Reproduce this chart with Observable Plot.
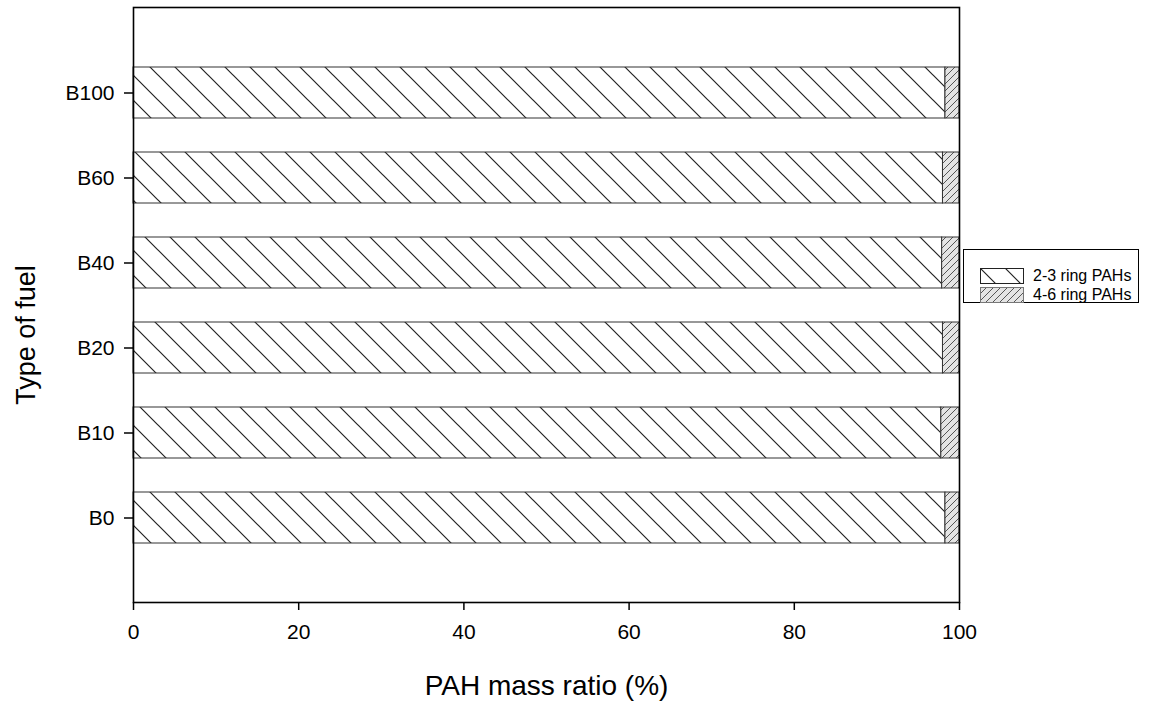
<!DOCTYPE html>
<html>
<head>
<meta charset="utf-8">
<script src="https://cdn.jsdelivr.net/npm/d3@7"></script>
<script src="https://cdn.jsdelivr.net/npm/@observablehq/plot@0.6"></script>
<style>
  html, body { margin: 0; padding: 0; background: #fff; }
  #wrap { position: relative; width: 1173px; height: 704px; font-family: "Liberation Sans", Arial, sans-serif; }
  #legend { position: absolute; left: 963px; top: 249px; width: 176px; height: 54px; border: 1.3px solid #000; box-sizing: border-box; background: #fff; }
  .li { position: absolute; left: 16px; display: flex; align-items: center; font-size: 16px; color: #000; line-height: 16px; }
  .li svg { margin-right: 9px; display: block; }
</style>
</head>
<body>
<div id="wrap"></div>
<script>
const fuels = ["B0", "B10", "B20", "B40", "B60", "B100"];
const ring23 = [98.3, 97.8, 98.0, 97.9, 98.0, 98.3];
const ring46 = [1.7, 2.2, 2.0, 2.1, 2.0, 1.7];
const seriesNames = ["2-3 ring PAHs", "4-6 ring PAHs"];
const xTicks = [0, 20, 40, 60, 80, 100];

const patternOf = {"2-3 ring PAHs": "url(#hatch23)", "4-6 ring PAHs": "url(#hatch46)"};
const data = [];
fuels.forEach((f, i) => {
  data.push({fuel: f, series: seriesNames[0], value: ring23[i]});
  data.push({fuel: f, series: seriesNames[1], value: ring46[i]});
});

const svg = Plot.plot({
  width: 1173,
  height: 704,
  marginLeft: 133,
  marginRight: 214,
  marginTop: 7,
  marginBottom: 102,
  style: {fontFamily: "'Liberation Sans', Arial, sans-serif", fontSize: "21px", color: "#000", background: "#fff"},
  x: {domain: [0, 100]},
  y: {domain: fuels.slice().reverse(), paddingInner: 0.4, paddingOuter: 0.7},
  color: {type: "identity"},
  marks: [
    Plot.barX(data, Plot.stackX({
      x: "value", y: "fuel", order: null,
      fill: d => patternOf[d.series],
      stroke: "#333", strokeWidth: 1
    })),
    Plot.frame({stroke: "#000", strokeWidth: 1.6}),
    Plot.axisX({ticks: xTicks, tickSize: 8, tickPadding: 14, tickFormat: d => String(d), label: null, fontSize: 21, strokeWidth: 1.5}),
    Plot.axisY({tickSize: 9, tickPadding: 10, label: null, fontSize: 21, strokeWidth: 1.5}),
    Plot.text(["PAH mass ratio (%)"], {frameAnchor: "bottom", textAnchor: "middle", dy: 92, fontSize: 28, text: d => d}),
    Plot.text(["Type of fuel"], {frameAnchor: "left", textAnchor: "middle", dx: -107, dy: 30, rotate: -90, fontSize: 27, text: d => d})
  ]
});

const ns = "http://www.w3.org/2000/svg";
const defs = document.createElementNS(ns, "defs");
defs.innerHTML = `
  <pattern id="hatch23" patternUnits="userSpaceOnUse" x="133" y="0" width="25" height="25">
    <rect width="25" height="25" fill="#fff"/>
    <path d="M-2,-2 L27,27 M-2,23 L2,27 M23,-2 L27,2" stroke="#222" stroke-width="1.2"/>
  </pattern>
  <pattern id="hatch46" patternUnits="userSpaceOnUse" width="7" height="7">
    <rect width="7" height="7" fill="#e4e4e4"/>
    <path d="M-1,8 L8,-1 M-1,1 L1,-1 M6,8 L8,6" stroke="#555" stroke-width="1"/>
  </pattern>`;
svg.insertBefore(defs, svg.firstChild);
document.getElementById("wrap").appendChild(svg);

// legend
const legend = document.createElement("div");
legend.id = "legend";
const swatchDefs = `<defs>
  <pattern id="lg23" patternUnits="userSpaceOnUse" width="25" height="25">
    <rect width="25" height="25" fill="#fff"/>
    <path d="M-2,-2 L27,27 M-2,23 L2,27 M23,-2 L27,2" stroke="#222" stroke-width="1.2"/>
  </pattern>
  <pattern id="lg46" patternUnits="userSpaceOnUse" width="7" height="7">
    <rect width="7" height="7" fill="#e4e4e4"/>
    <path d="M-1,8 L8,-1 M-1,1 L1,-1 M6,8 L8,6" stroke="#555" stroke-width="1"/>
  </pattern></defs>`;
const lgPat = ["url(#lg23)", "url(#lg46)"];
seriesNames.forEach((name, i) => {
  const row = document.createElement("div");
  row.className = "li";
  row.style.top = (i === 0 ? 18 : 37) + "px";
  row.innerHTML = `<svg width="44" height="16">${i === 0 ? swatchDefs : ""}<rect x="0.5" y="0.5" width="43" height="15" fill="${lgPat[i]}" stroke="${i === 0 ? '#222' : '#777'}" stroke-width="1"/></svg><span>${name}</span>`;
  legend.appendChild(row);
});
document.getElementById("wrap").appendChild(legend);
</script>
</body>
</html>
